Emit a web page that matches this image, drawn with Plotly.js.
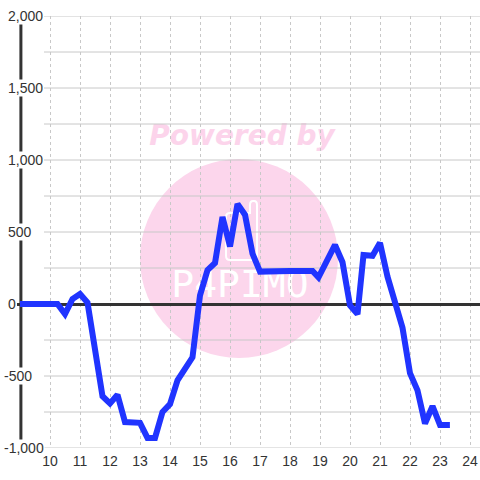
<!DOCTYPE html>
<html>
<head>
<meta charset="utf-8">
<script src="https://cdn.plot.ly/plotly-3.0.1.min.js"></script>
<style>html,body{margin:0;padding:0;background:#fff;}#chart{width:480px;height:480px;}</style>
</head>
<body>
<div id="chart"></div>
<script>
// ---- data ----
const times = [9.0, 10.25, 10.5, 10.75, 11.0, 11.25, 11.75, 12.0, 12.25, 12.5, 13.0, 13.25, 13.5, 13.75, 14.0, 14.25, 14.75, 15.0, 15.25, 15.5, 15.75, 16.0, 16.25, 16.5, 16.75, 17.0, 18.0, 18.75, 18.95, 19.5, 19.75, 20.0, 20.25, 20.45, 20.75, 21.0, 21.25, 21.5, 21.75, 22.0, 22.25, 22.5, 22.75, 23.0, 23.33];
const values = [0, 0, -70, 35, 70, 10, -640, -690, -630, -820, -825, -930, -930, -750, -695, -530, -370, 60, 235, 285, 605, 400, 695, 620, 350, 225, 230, 230, 185, 410, 290, -10, -70, 340, 335, 425, 190, 10, -165, -480, -600, -830, -710, -840, -840];
const xTickVals = [10, 11, 12, 13, 14, 15, 16, 17, 18, 19, 20, 21, 22, 23, 24];
const xTickText = ["10", "11", "12", "13", "14", "15", "16", "17", "18", "19", "20", "21", "22", "23", "24"];
const yTickVals = [-1000, -500, 0, 500, 1000, 1500, 2000];
const yTickText = ["-1,000", "-500", "0", "500", "1,000", "1,500", "2,000"];
const yGridVals = [-1000, -750, -500, -250, 0, 250, 500, 750, 1000, 1250, 1500, 1750, 2000];
const watermarkTop = "Powered by";
const watermarkLogo = "P4PIMO";

// ---- layout helpers (pixel -> paper) ----
const ML = 17, MT = 16, PW = 463, PH = 432;
const X = px => (px - ML) / PW;
const Y = py => (MT + PH - py) / PH;
const xMin = 8.9, xMax = 8.9 + PW / 30;

const shapes = [];
// watermark circle
shapes.push({type: 'circle', xref: 'paper', yref: 'paper', x0: X(140), x1: X(338), y0: Y(358), y1: Y(159),
  fillcolor: 'rgb(252,214,236)', line: {width: 0}, layer: 'below'});
// phone icon
const P = (px, py) => X(px).toFixed(5) + ',' + Y(py).toFixed(5);
shapes.push({type: 'path', xref: 'paper', yref: 'paper', layer: 'below',
  path: 'M' + P(226,217) + ' L' + P(226,256) + ' Q' + P(226,260) + ' ' + P(230,260) + ' L' + P(253,260) + ' Q' + P(257,260) + ' ' + P(257,256) +
        ' L' + P(257,205) + ' Q' + P(257,201) + ' ' + P(254,201) + ' L' + P(253,201) + ' Q' + P(250,201) + ' ' + P(250,205) + ' L' + P(250,213) +
        ' L' + P(230,213) + ' Q' + P(226,213) + ' ' + P(226,217) + ' Z',
  line: {color: 'white', width: 2}, fillcolor: 'rgba(0,0,0,0)'});
// watermark texts as shape labels (drawn below grid)
shapes.push({type: 'rect', xref: 'paper', yref: 'paper', x0: X(130), x1: X(354), y0: Y(152), y1: Y(114), layer: 'below',
  line: {width: 0}, fillcolor: 'rgba(0,0,0,0)',
  label: {text: '<b><i>' + watermarkTop + '</i></b>', textposition: 'middle center',
    font: {family: 'DejaVu Sans', size: 28, color: 'rgb(252,212,235)', weight: 'bold', style: 'italic'}}});
shapes.push({type: 'rect', xref: 'paper', yref: 'paper', x0: X(160), x1: X(320), y0: Y(306), y1: Y(256), layer: 'below',
  line: {width: 0}, fillcolor: 'rgba(0,0,0,0)',
  label: {text: watermarkLogo, textposition: 'middle center',
    font: {family: 'DejaVu Sans Mono', size: 38, color: 'white'}}});
// horizontal grid lines
yGridVals.forEach(v => {
  if (v !== 0) shapes.push({type: 'line', xref: 'x', yref: 'y', x0: xMin + 27 / 30, x1: xMax, y0: v, y1: v,
    line: {color: '#c8c8c8', width: 1}, layer: 'below'});
});
// left axis line
shapes.push({type: 'line', xref: 'x', yref: 'y', x0: 9.03, x1: 9.03, y0: -1000, y1: 2000,
  line: {color: '#333333', width: 3}, layer: 'between'});

// y tick labels as annotations with white background (break the axis line)
const annotations = yTickVals.map((v, i) => ({
  xref: 'paper', yref: 'y', x: X(v < 0 ? 3 : 7), y: v, xanchor: 'left', yanchor: 'middle',
  text: yTickText[i], showarrow: false, bgcolor: 'white', borderpad: 0,
  font: {family: 'Liberation Sans, Arial, sans-serif', size: 14, color: '#333333'}
}));

const trace = {
  x: times, y: values, type: 'scatter', mode: 'lines',
  line: {color: 'rgb(32,52,255)', width: 6},
  hoverinfo: 'none'
};

const layout = {
  width: 480, height: 480,
  margin: {l: ML, r: 480 - ML - PW, t: MT, b: 480 - MT - PH, pad: 0},
  paper_bgcolor: 'white', plot_bgcolor: 'white', showlegend: false,
  xaxis: {range: [xMin, xMax], autorange: false, tickmode: 'array', tickvals: xTickVals, ticktext: xTickText,
    showgrid: true, gridcolor: '#c8c8c8', gridwidth: 1, griddash: '3px,3px',
    zeroline: false, showline: false, ticks: '', ticklabelstandoff: 3,
    tickfont: {family: 'Liberation Sans, Arial, sans-serif', size: 14, color: '#333333'}},
  yaxis: {range: [-1000, 2000], autorange: false, showgrid: false, showticklabels: false,
    zeroline: true, zerolinecolor: '#333333', zerolinewidth: 3, showline: false, ticks: ''},
  shapes: shapes,
  annotations: annotations
};

Plotly.newPlot('chart', [trace], layout, {displayModeBar: false, staticPlot: true});
</script>
</body>
</html>
